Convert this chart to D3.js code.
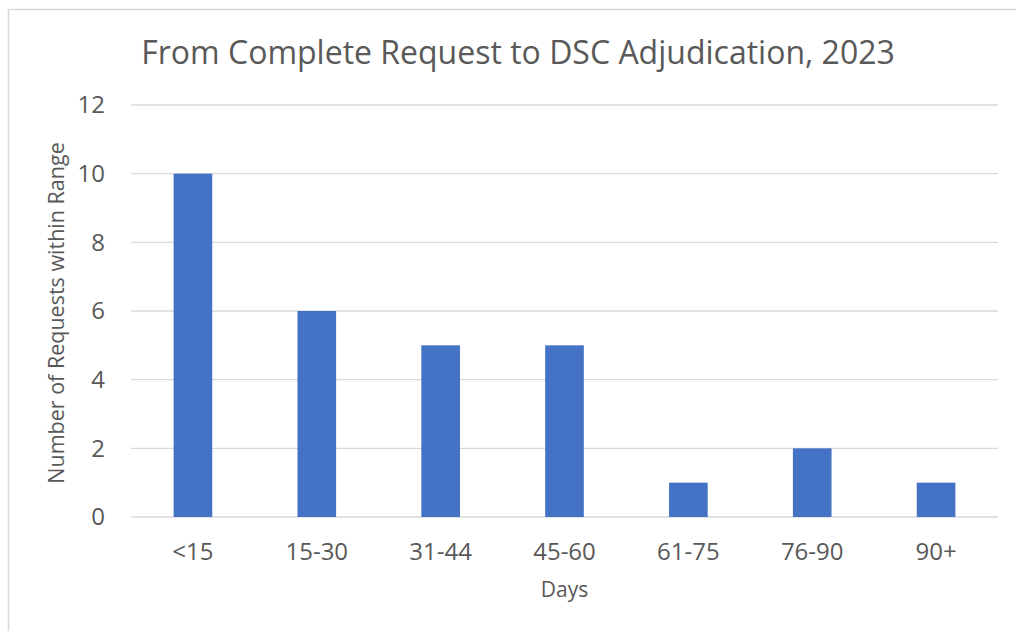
<!DOCTYPE html>
<html lang="en">
<head>
<meta charset="UTF-8">
<title>From Complete Request to DSC Adjudication, 2023</title>
<script src="https://cdn.jsdelivr.net/npm/d3@7"></script>
<style>
  body { margin: 0; background: #fff; }
  svg { display: block; font-family: "Open Sans", sans-serif; }
</style>
</head>
<body>
<div id="chart"></div>
<script>
const categories = ['<15', '15-30', '31-44', '45-60', '61-75', '76-90', '90+']
const counts = [10, 6, 5, 5, 1, 2, 1]
const yTicks = [0, 2, 4, 6, 8, 10, 12]

const width = 1016
const height = 631
const margin = { top: 105, right: 18, bottom: 114, left: 131 }
const innerWidth = width - margin.left - margin.right
const innerHeight = height - margin.top - margin.bottom

const svg = d3.select('#chart').append('svg')
  .attr('width', width)
  .attr('height', height)

// chart frame, only left and top edges show in the picture
svg.append('path')
  .attr('d', `M8.5,${height} V9.5 H${width}`)
  .attr('fill', 'none')
  .attr('stroke', '#d9d9d9')
  .attr('stroke-width', 1.5)

svg.append('text')
  .attr('x', 518).attr('y', 64)
  .attr('text-anchor', 'middle')
  .attr('font-size', 32)
  .attr('fill', '#595959')
  .text('From Complete Request to DSC Adjudication, 2023')

const g = svg.append('g').attr('transform', `translate(${margin.left},${margin.top})`)

const x = d3.scaleBand().domain(categories).range([0, innerWidth]).paddingInner(0.688).paddingOuter(0.344)
const y = d3.scaleLinear().domain([0, 12]).range([innerHeight, 0])

// gridlines
g.selectAll('.grid').data(yTicks).enter().append('line')
  .attr('x1', 0).attr('x2', innerWidth)
  .attr('y1', d => y(d)).attr('y2', d => y(d))
  .attr('stroke', '#d9d9d9')
  .attr('stroke-width', 1.3)

const yAxis = g.append('g').call(d3.axisLeft(y).tickValues(yTicks).tickSize(0).tickPadding(26))
yAxis.select('.domain').remove()
yAxis.selectAll('text').attr('font-size', 24).attr('fill', '#595959').attr('font-family', '"Open Sans", sans-serif')

g.selectAll('.bar').data(counts).enter().append('rect')
  .attr('x', (d, i) => x(categories[i]))
  .attr('y', d => y(d))
  .attr('width', x.bandwidth())
  .attr('height', d => innerHeight - y(d))
  .attr('fill', '#4472c4')

const xAxis = g.append('g').attr('transform', `translate(0,${innerHeight})`)
  .call(d3.axisBottom(x).tickSize(0).tickPadding(26))
xAxis.select('.domain').remove()
xAxis.selectAll('text').attr('font-size', 24).attr('fill', '#595959').attr('font-family', '"Open Sans", sans-serif')

svg.append('text')
  .attr('x', margin.left + innerWidth / 2).attr('y', 597)
  .attr('text-anchor', 'middle')
  .attr('font-size', 21)
  .attr('fill', '#595959')
  .text('Days')

svg.append('text')
  .attr('transform', `translate(64,${margin.top + innerHeight / 2 + 2}) rotate(-90)`)
  .attr('text-anchor', 'middle')
  .attr('font-size', 21.5)
  .attr('fill', '#595959')
  .text('Number of Requests within Range')
</script>
</body>
</html>
